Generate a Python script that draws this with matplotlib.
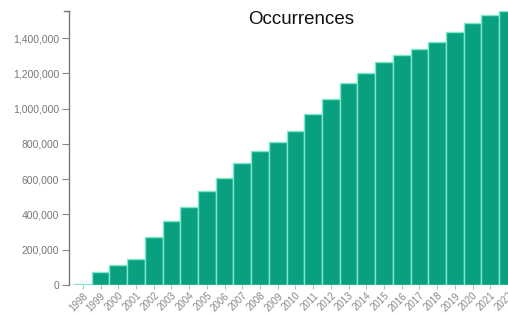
import matplotlib
matplotlib.use("Agg")
import matplotlib.pyplot as plt
from matplotlib.ticker import FuncFormatter

years = [str(y) for y in range(1998, 2023)]
occurrences = [8000, 75000, 113000, 145000, 275000, 362000, 445000, 535000,
               608000, 691000, 760000, 811000, 876000, 971000, 1057000,
               1148000, 1204000, 1266000, 1305000, 1340000, 1380000,
               1436000, 1488000, 1531000, 1554000]
y_ticks = [0, 200000, 400000, 600000, 800000, 1000000, 1200000, 1400000]

W, H = 508, 315
fig = plt.figure(figsize=(W / 100, H / 100), dpi=100)
plt.rcParams['font.family'] = ['Liberation Sans', 'DejaVu Sans']

left_px, bottom_px, top_px = 69, 285, 11
ax = fig.add_axes([left_px / W, 1 - bottom_px / H, (W - left_px) / W, (bottom_px - top_px) / H])

x = list(range(len(years)))
ax.bar(x, occurrences, width=1.0, color='#09a080', edgecolor='#80e8ca', linewidth=1.0)

band = 17.75
first_left = 74
x0 = -0.5 - (first_left - left_px) / band
ax.set_xlim(x0, (W - first_left) / band - 0.5)
ax.set_ylim(0, max(occurrences))

ax.set_yticks(y_ticks)
ax.yaxis.set_major_formatter(FuncFormatter(lambda v, p: f"{int(v):,}"))
ax.set_xticks(x)
ax.set_xticklabels(years, rotation=45, ha='right', va='top', rotation_mode='anchor')

for s in ['top', 'right', 'bottom']:
    ax.spines[s].set_visible(False)
ax.spines['left'].set_color('#777777')
ax.spines['left'].set_linewidth(1.0)

ax.tick_params(axis='y', length=5, width=0.8, color='#888888', labelsize=7.5,
               labelcolor='#777777', pad=2)
ax.tick_params(axis='x', length=3, width=0.8, color='#bbbbbb', labelsize=7,
               labelcolor='#888888', pad=1)

# outer tick at top of y axis
ax.plot([x0 - 5 / band, x0], [max(occurrences), max(occurrences)],
        color='#777777', lw=1.0, clip_on=False)

fig.text(301 / W, 1 - 20 / H, "Occurrences", ha='center', va='center',
         fontsize=13.5, color='#111111')

fig.savefig("out.png", dpi=100)
